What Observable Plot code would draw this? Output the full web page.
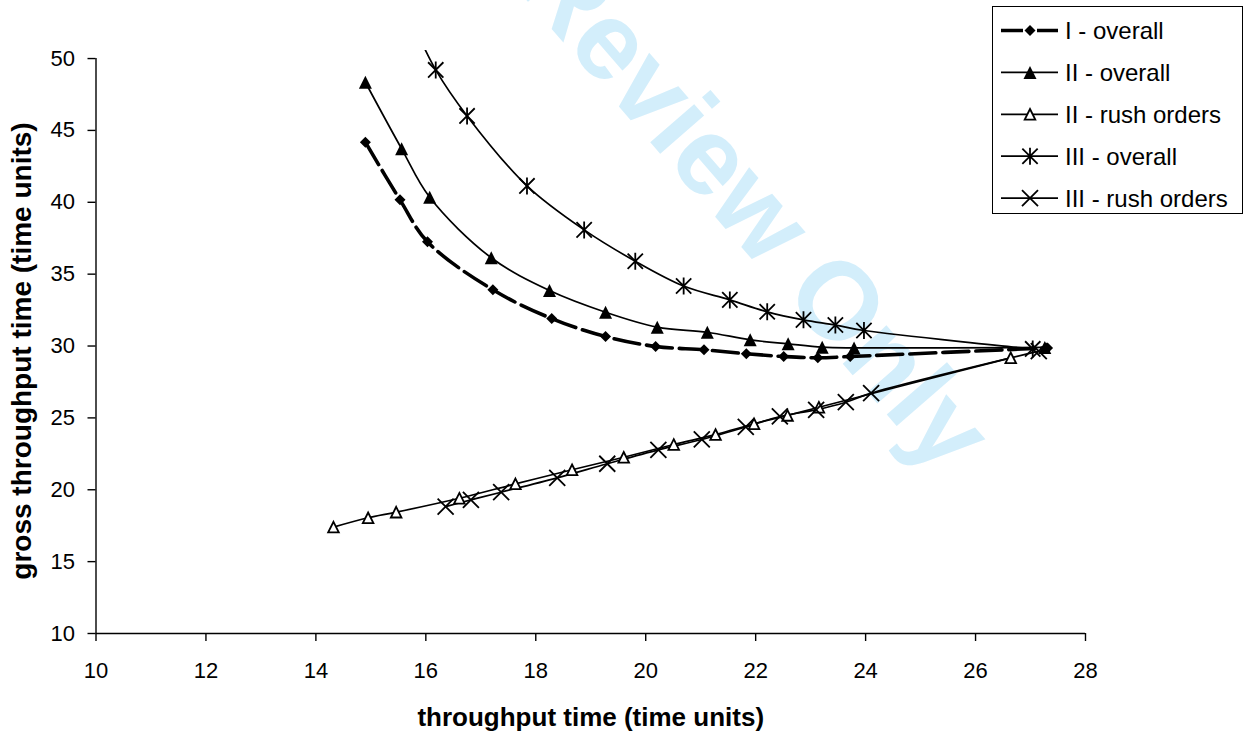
<!DOCTYPE html>
<html>
<head>
<meta charset="utf-8">
<script src="https://cdn.jsdelivr.net/npm/d3@7"></script>
<script src="https://cdn.jsdelivr.net/npm/@observablehq/plot@0.6"></script>
<style>
  html, body { margin: 0; padding: 0; background: #fff; }
  #wrap { position: relative; width: 1250px; height: 734px; overflow: hidden; font-family: "Liberation Sans", Arial, sans-serif; }
  #wm { position: absolute; left: 0; top: 0; z-index: 0; }
  #chart { position: absolute; left: 0; top: 0; z-index: 1; }
  #legend { position: absolute; left: 992px; top: 6px; width: 251px; height: 208px; border: 1.3px solid #000; background: #fff; z-index: 2; box-sizing: border-box; }
</style>
</head>
<body>
<div id="wrap">
  <svg id="wm" width="1250" height="734"></svg>
  <div id="chart"></div>
  <div id="legend"></div>
</div>
<script>
// ---------- data ----------
const seriesNames = ["I - overall", "II - overall", "II - rush orders", "III - overall", "III - rush orders"];
const xTicks = [10, 12, 14, 16, 18, 20, 22, 24, 26, 28];
const yTicks = [10, 15, 20, 25, 30, 35, 40, 45, 50];
const xTitle = "throughput time (time units)";
const yTitle = "gross throughput time (time units)";
const watermark = "For Peer Review Only";

const xIOverall  = [14.90, 15.53, 16.03, 17.22, 18.29, 19.27, 20.18, 21.06, 21.83, 22.51, 23.13, 23.72, 27.31];
const yIOverall  = [44.18, 40.17, 37.25, 33.91, 31.91, 30.66, 29.97, 29.74, 29.46, 29.27, 29.18, 29.27, 29.87];

const xIIOverall = [14.90, 15.56, 16.07, 17.19, 18.25, 19.27, 20.21, 21.12, 21.90, 22.59, 23.21, 23.79, 27.26];
const yIIOverall = [48.35, 43.72, 40.35, 36.14, 33.86, 32.35, 31.31, 30.96, 30.43, 30.15, 29.92, 29.87, 29.90];

const xIIRush    = [14.32, 14.95, 15.46, 16.61, 17.63, 18.66, 19.60, 20.51, 21.27, 21.97, 22.58, 23.15, 26.64];
const yIIRush    = [17.40, 18.05, 18.44, 19.41, 20.41, 21.39, 22.26, 23.15, 23.84, 24.59, 25.17, 25.74, 29.18];

const xIIIOverall = [15.75, 16.18, 16.75, 17.84, 18.88, 19.81, 20.69, 21.53, 22.21, 22.87, 23.45, 23.97, 27.04];
const yIIIOverall = [52.60, 49.21, 46.01, 41.14, 38.08, 35.90, 34.17, 33.21, 32.38, 31.82, 31.46, 31.08, 29.80];

const xIIIRush   = [16.36, 16.82, 17.37, 18.39, 19.30, 20.23, 21.02, 21.82, 22.44, 23.10, 23.64, 24.10, 27.15];
const yIIIRush   = [18.83, 19.30, 19.83, 20.83, 21.81, 22.78, 23.50, 24.37, 25.10, 25.56, 26.09, 26.72, 29.64];

// ---------- symbols (Excel-like markers) ----------
function sym(fn) { return { draw(c, size) { fn(c, Math.sqrt(size / Math.PI)); } }; }
const diamond = sym((c, r) => { c.moveTo(0, -r); c.lineTo(r, 0); c.lineTo(0, r); c.lineTo(-r, 0); c.closePath(); });
const triangle = sym((c, r) => { c.moveTo(0, -r); c.lineTo(r, r); c.lineTo(-r, r); c.closePath(); });
const star = sym((c, r) => { const k = 0.9 * r; c.moveTo(0, -r); c.lineTo(0, r); c.moveTo(-k, -k); c.lineTo(k, k); c.moveTo(-k, k); c.lineTo(k, -k); });
const cross = sym((c, r) => { c.moveTo(-r, -r); c.lineTo(r, r); c.moveTo(-r, r); c.lineTo(r, -r); });

const styles = {
  "I - overall":       { symbol: diamond,  r: 5.5, fill: "black", stroke: "none",  sw: 0,   lw: 3.6, dash: "26,7", legDash: "22,14" },
  "II - overall":      { symbol: triangle, r: 6.5, fill: "black", stroke: "none",  sw: 0,   lw: 1.7, dash: null },
  "II - rush orders":  { symbol: triangle, r: 5.3, fill: "white", stroke: "black", sw: 1.8, lw: 1.7, dash: null },
  "III - overall":     { symbol: star,     r: 8.5, fill: "none",  stroke: "black", sw: 1.8, lw: 1.7, dash: null },
  "III - rush orders": { symbol: cross,    r: 8.0, fill: "none",  stroke: "black", sw: 1.8, lw: 1.7, dash: null }
};

const seriesXY = [
  [xIOverall, yIOverall], [xIIOverall, yIIOverall], [xIIRush, yIIRush],
  [xIIIOverall, yIIIOverall], [xIIIRush, yIIIRush]
];
const series = seriesNames.map((name, i) => ({
  name,
  data: seriesXY[i][0].map((x, j) => ({ series: name, x, y: seriesXY[i][1][j] }))
}));

// ---------- chart ----------
const font = "'Liberation Sans', Arial, sans-serif";
const marks = [
  Plot.ruleY([10], { stroke: "black", strokeWidth: 1.4 }),
  Plot.ruleX([10], { y1: 10, y2: 50, stroke: "black", strokeWidth: 1.4 }),
  Plot.axisX({ ticks: xTicks, tickSize: 8, tickPadding: 21, fontSize: 22, label: null, strokeWidth: 1.4 }),
  Plot.axisY({ ticks: yTicks, tickSize: 8, tickPadding: 13, fontSize: 22, label: null, strokeWidth: 1.4 }),
  ...series.map(s => {
    const st = styles[s.name];
    return Plot.line(s.data, { x: "x", y: "y", curve: "catmull-rom", stroke: "black", strokeWidth: st.lw, strokeDasharray: st.dash || undefined, clip: true });
  }),
  ...series.map(s => {
    const st = styles[s.name];
    return Plot.dot(s.data, { x: "x", y: "y", symbol: st.symbol, r: st.r, fill: st.fill, stroke: st.stroke, strokeWidth: st.sw, clip: true });
  }),
  Plot.text([xTitle], { frameAnchor: "bottom", lineAnchor: "middle", textAnchor: "middle", dy: 84, fontSize: 26, fontWeight: "bold", fill: "black" }),
  Plot.text([yTitle], { frameAnchor: "left", lineAnchor: "middle", textAnchor: "middle", rotate: -90, dx: -74, dy: 9, fontSize: 28, fontWeight: "bold", fill: "black" })
];

const chart = Plot.plot({
  width: 1250, height: 734,
  marginLeft: 95.5, marginRight: 165, marginTop: 50, marginBottom: 101,
  x: { domain: [10, 28] },
  y: { domain: [10, 50.56] },
  style: { background: "transparent", color: "black", fontFamily: font },
  marks
});
document.getElementById("chart").append(chart);

// ---------- legend ----------
const leg = d3.select("#legend").append("svg").attr("width", 249).attr("height", 206);
seriesNames.forEach((name, i) => {
  const st = styles[name];
  const g = leg.append("g").attr("transform", `translate(0,${23.5 + i * 41.9})`);
  g.append("line").attr("x1", 8).attr("x2", 65).attr("y1", 0).attr("y2", 0)
    .attr("stroke", "black").attr("stroke-width", st.lw)
    .attr("stroke-dasharray", st.legDash || null);
  g.append("path").attr("d", d3.symbol(st.symbol, st.r * st.r * Math.PI)())
    .attr("transform", "translate(37,0)")
    .attr("fill", st.fill).attr("stroke", st.stroke).attr("stroke-width", st.sw);
  g.append("text").attr("x", 72).attr("dy", "0.35em").text(name)
    .style("font-family", font).style("font-size", "24px").attr("fill", "black");
});

// ---------- watermark ----------
d3.select("#wm").append("text")
  .attr("transform", "translate(942,478) rotate(49)")
  .attr("text-anchor", "end")
  .style("font-family", font).style("font-weight", "bold").style("font-size", "110px")
  .attr("fill", "#d3eefb")
  .text(watermark);
</script>
</body>
</html>
